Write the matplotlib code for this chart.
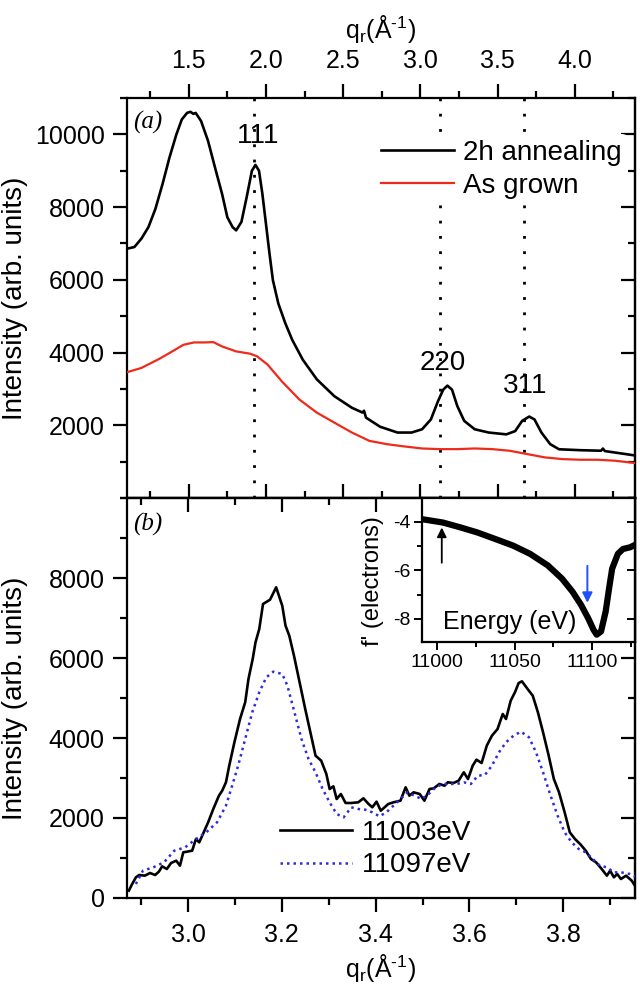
import matplotlib
matplotlib.use("Agg")
import matplotlib.pyplot as plt
from matplotlib.ticker import MultipleLocator, FixedLocator, StrMethodFormatter

plt.rcParams["font.family"] = ["Liberation Sans", "DejaVu Sans"]
plt.rcParams["mathtext.fontset"] = "custom"
plt.rcParams["mathtext.rm"] = "Liberation Sans"
plt.rcParams["axes.unicode_minus"] = False

# ---- panel (a): in-plane scans, 2h annealed vs as grown ----
q_ann = [1.102, 1.148, 1.193, 1.239, 1.284, 1.33, 1.375, 1.42, 1.455, 1.489, 1.511,
         1.53, 1.545, 1.58, 1.625, 1.67, 1.716, 1.75, 1.784, 1.807, 1.841, 1.875,
         1.909, 1.932, 1.955, 1.977, 2.0, 2.023, 2.045, 2.08, 2.125, 2.17, 2.239,
         2.33, 2.443, 2.557, 2.625, 2.635, 2.648, 2.739, 2.852, 2.943, 3.011, 3.068,
         3.114, 3.148, 3.175, 3.205, 3.239, 3.284, 3.352, 3.443, 3.557, 3.614, 3.659,
         3.705, 3.739, 3.784, 3.841, 3.898, 4.034, 4.17, 4.182, 4.195, 4.261, 4.39]
i_ann = [6857, 6902, 7130, 7450, 7950, 8630, 9360, 10000, 10410, 10590, 10620,
         10565, 10590, 10365, 9820, 9090, 8360, 7720, 7450, 7360, 7590, 8270,
         9000, 9160, 9000, 8360, 7540, 6720, 5990, 5350, 4810, 4350, 3800,
         3260, 2800, 2480, 2350, 2400, 2210, 1960, 1800, 1800, 1890, 2160,
         2660, 2980, 3090, 2980, 2530, 2120, 1890, 1800, 1750, 1840, 2120,
         2240, 2160, 1800, 1480, 1340, 1315, 1300, 1360, 1290, 1250, 1170]

q_grown = [1.098, 1.193, 1.307, 1.375, 1.466, 1.534, 1.602, 1.659, 1.716, 1.807,
           1.898, 1.943, 2.011, 2.102, 2.216, 2.33, 2.443, 2.557, 2.67, 2.784,
           2.898, 3.011, 3.125, 3.239, 3.352, 3.466, 3.58, 3.693, 3.807, 3.92,
           4.034, 4.148, 4.261, 4.39]
i_grown = [3457, 3576, 3822, 3986, 4214, 4278, 4278, 4287, 4168, 4032,
           3968, 3895, 3667, 3211, 2710, 2346, 2073, 1800, 1571, 1480,
           1417, 1362, 1344, 1344, 1362, 1344, 1298, 1207, 1116, 1070,
           1052, 1052, 1025, 961]

peak_q = [1.92, 3.13, 3.67]
peak_labels = ["111", "220", "311"]
peak_label_q = [1.95, 3.148, 3.677]
peak_label_i = [9950, 3713, 3093]

# ---- panel (b): anomalous scattering scans ----
q_11003 = [2.874, 2.880, 2.889, 2.896, 2.908, 2.919, 2.930, 2.938, 2.945, 2.955,
           2.964, 2.975, 2.983, 2.990, 2.998, 3.009, 3.017, 3.024, 3.032, 3.043,
           3.054, 3.066, 3.073, 3.081, 3.088, 3.099, 3.111, 3.122, 3.129, 3.138,
           3.144, 3.152, 3.160, 3.175, 3.188, 3.201, 3.208, 3.216, 3.226, 3.238,
           3.250, 3.261, 3.272, 3.284, 3.295, 3.302, 3.310, 3.317, 3.326, 3.336,
           3.348, 3.363, 3.374, 3.385, 3.393, 3.402, 3.411, 3.427, 3.438, 3.453,
           3.464, 3.472, 3.481, 3.494, 3.504, 3.515, 3.524, 3.536, 3.547, 3.554,
           3.566, 3.577, 3.588, 3.597, 3.607, 3.615, 3.626, 3.637, 3.648, 3.660,
           3.671, 3.678, 3.688, 3.697, 3.705, 3.712, 3.724, 3.735, 3.746, 3.757,
           3.769, 3.780, 3.791, 3.803, 3.814, 3.825, 3.836, 3.848, 3.859, 3.870,
           3.882, 3.893, 3.900, 3.908, 3.915, 3.923, 3.934, 3.946, 3.955]
i_11003 = [184, 325, 517, 575, 558, 625, 575, 658, 792, 725,
           875, 933, 808, 1142, 1158, 1183, 1475, 1392, 1600, 1892,
           2225, 2558, 2683, 2892, 3308, 3892, 4475, 4892, 5475, 5975,
           6392, 6725, 7350, 7458, 7767, 7308, 6808, 6558, 6058, 5392,
           4725, 4142, 3558, 3433, 3100, 2725, 2792, 2475, 2600, 2375,
           2375, 2392, 2492, 2350, 2267, 2408, 2183, 2350, 2392, 2433,
           2767, 2558, 2642, 2600, 2433, 2725, 2742, 2850, 2808, 2892,
           2875, 2933, 3142, 2975, 3308, 3458, 3375, 3808, 4058, 4225,
           4600, 4475, 4933, 5142, 5375, 5417, 5225, 5058, 4642, 4142,
           3558, 2975, 2642, 2142, 1642, 1475, 1350, 1183, 975, 892,
           725, 558, 683, 517, 600, 475, 558, 433, 267]

q_11097 = [2.889, 2.904, 2.926, 2.949, 2.971, 2.994, 3.017, 3.039, 3.062, 3.081,
           3.092, 3.107, 3.122, 3.137, 3.152, 3.167, 3.182, 3.201, 3.212, 3.227,
           3.242, 3.257, 3.272, 3.287, 3.302, 3.317, 3.332, 3.348, 3.363, 3.378,
           3.393, 3.408, 3.423, 3.438, 3.453, 3.468, 3.483, 3.498, 3.513, 3.528,
           3.543, 3.558, 3.573, 3.588, 3.603, 3.618, 3.633, 3.648, 3.663, 3.678,
           3.694, 3.710, 3.727, 3.742, 3.757, 3.773, 3.788, 3.803, 3.818, 3.833,
           3.848, 3.863, 3.878, 3.893, 3.908, 3.923, 3.942, 3.957]
i_11097 = [350, 683, 767, 892, 1183, 1267, 1475, 1642, 1892, 2308,
           2725, 3308, 3975, 4642, 5142, 5517, 5658, 5600, 5308, 4642,
           3975, 3475, 3142, 2725, 2392, 2100, 2017, 2267, 2225, 2208,
           2142, 2042, 2142, 2308, 2475, 2642, 2558, 2475, 2600, 2767,
           2850, 2850, 2850, 2892, 2850, 3058, 3075, 3308, 3642, 3892,
           4058, 4158, 4017, 3642, 3142, 2558, 2058, 1642, 1392, 1225,
           1142, 975, 808, 767, 642, 642, 600, 517]

# ---- inset: f' vs energy ----
energy = [10990, 11003.7, 11015, 11026, 11037.6, 11049, 11060, 11071.5, 11080.6,
          11087.4, 11093, 11097.5, 11101, 11103, 11105.8, 11108.8, 11111, 11113,
          11116.7, 11120, 11124.6, 11129]
fprime = [-3.89, -4.03, -4.23, -4.44, -4.71, -4.98, -5.32, -5.80, -6.34,
          -6.88, -7.43, -7.97, -8.45, -8.65, -8.52, -7.70, -6.75, -5.93,
          -5.32, -5.12, -5.05, -4.91]

red = "#ee2a1b"
blue = "#2b2be0"
lw_ax = 1.6
fs = 18      # tick labels
fs_big = 20  # legends, peak labels, axis titles
qlabel = r"q$_\mathregular{r}$(Å$^{\text{-1}}$)"

fig = plt.figure(figsize=(6.4, 9.84), dpi=100)
ax_a = fig.add_axes([0.1984, 0.4939, 0.7938, 0.4065])
ax_b = fig.add_axes([0.1984, 0.0874, 0.7938, 0.4065])

for ax in (ax_a, ax_b):
    for s in ax.spines.values():
        s.set_linewidth(lw_ax)
    ax.tick_params(which="major", length=10, width=lw_ax, labelsize=fs)
    ax.tick_params(which="minor", length=5, width=lw_ax)

# ---- (a) ----
ax_a.plot(q_ann, i_ann, color="k", lw=1.9, label="2h annealing", zorder=3)
ax_a.plot(q_grown, i_grown, color=red, lw=1.6, label="As grown", zorder=3)
for q in peak_q:
    ax_a.axvline(q, color="k", lw=2, ls=(0, (1, 4.5)), zorder=1)
for lab, x, y in zip(peak_labels, peak_label_q, peak_label_i):
    ax_a.text(x, y, lab, fontsize=fs_big, ha="center", va="center")

ax_a.set_xlim(1.10, 4.39)
ax_a.set_ylim(0, 11000)
ax_a.xaxis.tick_top()
ax_a.xaxis.set_label_position("top")
ax_a.xaxis.set_major_locator(MultipleLocator(0.5))
ax_a.xaxis.set_minor_locator(MultipleLocator(0.25))
ax_a.yaxis.set_major_locator(FixedLocator([2000, 4000, 6000, 8000, 10000]))
ax_a.yaxis.set_minor_locator(MultipleLocator(1000))
ax_a.tick_params(axis="both", which="both", direction="out", right=False, bottom=False)
ax_a.tick_params(axis="x", pad=8)
ax_a.tick_params(axis="y", pad=6)
ax_a.set_xlabel(qlabel, fontsize=fs)
ax_a.xaxis.set_label_coords(0.5, 1.15)
ax_a.set_ylabel("Intensity (arb. units)", fontsize=fs_big)
ax_a.yaxis.set_label_coords(-0.195, 0.5)

sec = ax_a.secondary_xaxis("bottom")
sec.xaxis.set_major_locator(MultipleLocator(0.5))
sec.xaxis.set_minor_locator(MultipleLocator(0.25))
sec.tick_params(which="both", direction="in", labelbottom=False, width=lw_ax)
sec.tick_params(which="major", length=10)
sec.tick_params(which="minor", length=5)
sec.spines["bottom"].set_linewidth(lw_ax)
secy = ax_a.secondary_yaxis("right")
secy.yaxis.set_major_locator(FixedLocator([2000, 4000, 6000, 8000, 10000]))
secy.yaxis.set_minor_locator(MultipleLocator(1000))
secy.tick_params(which="both", direction="in", labelright=False, width=lw_ax)
secy.tick_params(which="major", length=10)
secy.tick_params(which="minor", length=5)
secy.spines["right"].set_linewidth(lw_ax)

leg = ax_a.legend(loc="upper left", bbox_to_anchor=(0.49, 0.91), fontsize=fs_big,
                  frameon=True, facecolor="white", edgecolor="none", framealpha=1,
                  handlelength=2.6, handletextpad=0.35, labelspacing=0.25,
                  borderpad=0.2, borderaxespad=0)
leg.set_zorder(5)
ax_a.text(0.012, 0.94, "(a)", transform=ax_a.transAxes, fontsize=fs,
          family="Liberation Serif", style="italic", va="center")

# ---- (b) ----
ax_b.plot(q_11003, i_11003, color="k", lw=1.9, label="11003eV", zorder=3)
ax_b.plot(q_11097, i_11097, color=blue, lw=1.8, ls=(0, (1, 1.6)), label="11097eV", zorder=3)
ax_b.set_xlim(2.87, 3.953)
ax_b.set_ylim(0, 10000)
ax_b.xaxis.set_major_locator(MultipleLocator(0.2))
ax_b.xaxis.set_minor_locator(MultipleLocator(0.1))
ax_b.yaxis.set_major_locator(FixedLocator([0, 2000, 4000, 6000, 8000]))
ax_b.yaxis.set_minor_locator(MultipleLocator(1000))
ax_b.tick_params(axis="both", which="both", direction="out", right=False, top=False)
ax_b.tick_params(axis="x", pad=8)
ax_b.tick_params(axis="y", pad=6)
ax_b.set_xlabel(qlabel, fontsize=fs)
ax_b.xaxis.set_label_coords(0.5, -0.135)
ax_b.set_ylabel("Intensity (arb. units)", fontsize=fs_big)
ax_b.yaxis.set_label_coords(-0.195, 0.5)

secb = ax_b.secondary_xaxis("top")
secb.xaxis.set_major_locator(MultipleLocator(0.2))
secb.xaxis.set_minor_locator(MultipleLocator(0.1))
secb.tick_params(which="both", direction="in", labeltop=False, width=lw_ax)
secb.tick_params(which="major", length=10)
secb.tick_params(which="minor", length=5)
secb.spines["top"].set_linewidth(lw_ax)
secby = ax_b.secondary_yaxis("right")
secby.yaxis.set_major_locator(FixedLocator([0, 2000, 4000, 6000, 8000]))
secby.yaxis.set_minor_locator(MultipleLocator(1000))
secby.tick_params(which="both", direction="in", labelright=False, width=lw_ax)
secby.tick_params(which="major", length=10)
secby.tick_params(which="minor", length=5)
secby.spines["right"].set_linewidth(lw_ax)

ax_b.legend(loc="upper left", bbox_to_anchor=(0.29, 0.21), fontsize=fs_big,
            frameon=False, handlelength=2.6, handletextpad=0.35, labelspacing=0.25,
            borderpad=0.2, borderaxespad=0)
ax_b.text(0.012, 0.935, "(b)", transform=ax_b.transAxes, fontsize=fs,
          family="Liberation Serif", style="italic", va="center")

# ---- inset ----
ax_in = fig.add_axes([0.6588, 0.3476, 0.334, 0.1463])
ax_in.plot(energy, fprime, color="k", lw=4.5, solid_capstyle="round", zorder=3)
ax_in.set_xlim(10990, 11128)
ax_in.set_ylim(-8.95, -3.02)
ax_in.xaxis.set_major_locator(FixedLocator([11000, 11050, 11100]))
ax_in.xaxis.set_minor_locator(MultipleLocator(25))
ax_in.xaxis.set_major_formatter(StrMethodFormatter("{x:.0f}"))
ax_in.yaxis.set_major_locator(FixedLocator([-8, -6, -4]))
ax_in.yaxis.set_minor_locator(MultipleLocator(1))
ax_in.yaxis.set_major_formatter(StrMethodFormatter("{x:.0f}"))
for s in ax_in.spines.values():
    s.set_linewidth(lw_ax)
ax_in.tick_params(which="both", direction="out", labelsize=14, width=1.4, top=False, right=False)
ax_in.tick_params(which="major", length=6)
ax_in.tick_params(which="minor", length=3.5)
ax_in.tick_params(axis="y", pad=2)
ax_in.tick_params(axis="x", pad=3)
secin = ax_in.secondary_yaxis("right")
secin.yaxis.set_major_locator(FixedLocator([-8, -6, -4]))
secin.tick_params(direction="in", labelright=False, length=6, width=1.4)
secin.spines["right"].set_linewidth(lw_ax)
ax_in.set_ylabel("f' (electrons)", fontsize=17)
ax_in.yaxis.set_label_coords(-0.175, 0.42)
ax_in.text(0.41, 0.14, "Energy (eV)", transform=ax_in.transAxes, fontsize=18,
           ha="center", va="center")
ax_in.annotate("", xy=(11003, -4.12), xytext=(11003, -5.8),
               arrowprops=dict(arrowstyle="-|>", color="k", lw=1.3, mutation_scale=14))
ax_in.annotate("", xy=(11097, -7.45), xytext=(11097, -5.7),
               arrowprops=dict(arrowstyle="-|>", color="#1f4fff", lw=1.4, mutation_scale=15))

fig.savefig("out.png", dpi=100)
